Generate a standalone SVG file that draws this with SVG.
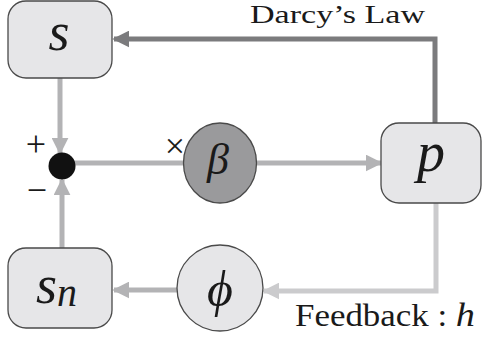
<svg xmlns="http://www.w3.org/2000/svg" width="483" height="344" viewBox="0 0 483 344">
<style>
.box{fill:#e6e6e8;stroke:#4a4a4a;stroke-width:1.3}
text{font-family:"Liberation Serif","DejaVu Serif",serif;fill:#1a1a1a}
.m{font-style:italic}
.lt{fill:none;stroke:#b3b3b5;stroke-width:5}
.dk{fill:none;stroke:#7b7b7d;stroke-width:5}
.fb{fill:none;stroke:#cbcbcd;stroke-width:5}
</style>
<defs>
<marker id="aL" viewBox="0 0 10 10" refX="9" refY="5" markerWidth="3.4" markerHeight="3.4" orient="auto" markerUnits="strokeWidth"><path d="M0,0L10,5L0,10z" fill="#b3b3b5"/></marker>
<marker id="aD" viewBox="0 0 10 10" refX="9" refY="5" markerWidth="3.4" markerHeight="3.4" orient="auto" markerUnits="strokeWidth"><path d="M0,0L10,5L0,10z" fill="#7b7b7d"/></marker>
<marker id="aF" viewBox="0 0 10 10" refX="9" refY="5" markerWidth="3.4" markerHeight="3.4" orient="auto" markerUnits="strokeWidth"><path d="M0,0L10,5L0,10z" fill="#cbcbcd"/></marker>
</defs>
<rect width="483" height="344" fill="#fff"/>
<g id="connectors">
<path class="dk" d="M435,123V39H114" marker-end="url(#aD)"/>
<path class="lt" d="M60,78V153" marker-end="url(#aL)"/>
<path class="lt" d="M62,248V180" marker-end="url(#aL)"/>
<path class="lt" d="M70,163H184"/>
<path class="lt" d="M256,163H381" marker-end="url(#aL)"/>
<path class="fb" d="M436,203V291H264" marker-end="url(#aF)"/>
<path class="lt" d="M177,290H114" marker-end="url(#aL)"/>
</g>
<g id="s"><rect class="box" x="8" y="1" width="104" height="77" rx="18"/><text class="m" x="59" y="50" font-size="54" text-anchor="middle">s</text></g>
<g id="sn"><rect class="box" x="8" y="248" width="104" height="80" rx="18"/><text class="m" x="36" y="303" font-size="54">s<tspan font-size="40" dy="3">n</tspan></text></g>
<g id="p"><rect class="box" x="381" y="123" width="100" height="80" rx="18"/><text class="m" x="431" y="171" font-size="56" text-anchor="middle">p</text></g>
<g id="beta"><ellipse cx="220" cy="163" rx="36.5" ry="40" fill="#9a9a9c" stroke="#4a4a4a" stroke-width="1.3"/><text class="m" x="218" y="174" font-size="44" text-anchor="middle">β</text></g>
<g id="phi"><circle cx="220" cy="288" r="43" fill="#e6e6e8" stroke="#4a4a4a" stroke-width="1.3"/><text class="m" x="220" y="306" font-size="50" text-anchor="middle">ϕ</text></g>
<g id="junction"><circle cx="62" cy="166" r="13.5" fill="#111"/>
<text x="36" y="156" font-size="36" text-anchor="middle">+</text>
<text x="37" y="202" font-size="36" text-anchor="middle">−</text>
<text x="175" y="158" font-size="36" text-anchor="middle">×</text></g>
<text x="250" y="23" font-size="26" textLength="175" lengthAdjust="spacingAndGlyphs">Darcy’s Law</text>
<text x="295" y="326" font-size="31" textLength="180" lengthAdjust="spacingAndGlyphs">Feedback : <tspan class="m" font-size="34">h</tspan></text>
</svg>
